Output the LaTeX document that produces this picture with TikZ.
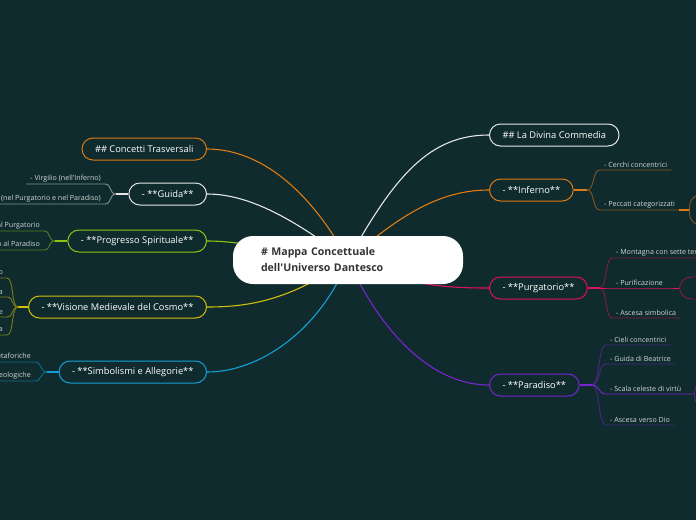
\documentclass[tikz,border=0pt]{standalone}
\usepackage{fontspec}
\setmainfont{Open Sans}
\usetikzlibrary{positioning}
\definecolor{bgcol}{HTML}{0F2B2D}
\definecolor{corange}{HTML}{E07A12}
\definecolor{cwhite}{HTML}{E6E6E6}
\definecolor{cgreen}{HTML}{8CC514}
\definecolor{cyellow}{HTML}{D2BE0C}
\definecolor{ccyan}{HTML}{14A0D6}
\definecolor{cpink}{HTML}{DE1060}
\definecolor{cpurple}{HTML}{7A24D0}
\definecolor{subtext}{HTML}{D4D8D8}
\definecolor{ctext}{HTML}{333333}
\pgfdeclarelayer{background}
\pgfdeclarelayer{edges}
\pgfsetlayers{background,edges,main}
\tikzset{
  topic/.style={draw=#1, line width=1pt, fill=bgcol, text=white, rounded corners=11pt,
    minimum height=22pt, inner xsep=13pt, font=\fontsize{9.3}{11}\selectfont},
  sub/.style={text=subtext, inner xsep=4pt, inner ysep=2pt, font=\fontsize{7.1}{8}\selectfont},
  leaf/.style={draw=#1!55!bgcol, line width=.9pt, rounded corners=12pt, anchor=west},
  link/.style={draw=#1, line width=1.1pt},
  twig/.style={draw=#1!55!bgcol, line width=.9pt}
}
\begin{document}
\begin{tikzpicture}[x=1pt,y=-1pt]
\useasboundingbox (0,0) rectangle (696,520);
\clip (0,0) rectangle (696,520);
\begin{pgfonlayer}{background}
\fill[bgcol] (0,0) rectangle (696,520);
\end{pgfonlayer}
%centre of the map
\node[fill=white, text=ctext, rounded corners=20pt, minimum height=48pt, text width=174pt,
  inner xsep=28pt, align=left, font=\bfseries\fontsize{10.6}{16}\selectfont] (map) at (348,260)
  {\# Mappa Concettuale\\dell\textquotesingle Universo Dantesco};
%main topics on the right
\node[topic=cwhite, anchor=west] (comm) at (489,135) {\#\# La Divina Commedia};
\node[topic=corange, anchor=west] (inf) at (489,190) {- **Inferno**};
\node[topic=cpink, anchor=west] (pur) at (489,288) {- **Purgatorio**};
\node[topic=cpurple, anchor=west] (par) at (489,385) {- **Paradiso**};
%main topics on the left
\node[topic=corange, anchor=east] (conc) at (207,149) {\#\# Concetti Trasversali};
\node[topic=cwhite, anchor=east] (guida) at (207,194) {- **Guida**};
\node[topic=cgreen, anchor=east] (prog) at (207,241) {- **Progresso Spirituale**};
\node[topic=cyellow, anchor=east] (cosmo) at (207,307) {- **Visione Medievale del Cosmo**};
\node[topic=ccyan, anchor=east] (simb) at (207,372) {- **Simbolismi e Allegorie**};
%inferno
\coordinate (infj) at (587,190);
\node[sub, anchor=south west] (inf1) at (600,170) {- Cerchi concentrici};
\node[sub, anchor=south west] (inf2) at (600,210) {- Peccati categorizzati};
\node[leaf=corange, minimum width=60pt, minimum height=31pt] (inf2a) at (689,210) {};
%purgatorio
\coordinate (purj) at (600,288);
\node[sub, anchor=south west] (pur1) at (612,258) {- Montagna con sette terrazze};
\node[sub, anchor=south west] (pur2) at (612,288) {- Purificazione};
\node[sub, anchor=south west] (pur3) at (612,318) {- Ascesa simbolica};
\node[leaf=cpink, minimum width=60pt, minimum height=22pt] (pur2a) at (679,288) {};
%paradiso
\coordinate (parj) at (592,385);
\node[sub, anchor=south west] (par1) at (606,345) {- Cieli concentrici};
\node[sub, anchor=south west] (par2) at (606,364) {- Guida di Beatrice};
\node[sub, anchor=south west] (par3) at (606,394) {- Scala celeste di virtù};
\node[sub, anchor=south west] (par4) at (606,425) {- Ascesa verso Dio};
\node[leaf=cpurple, minimum width=60pt, minimum height=28pt] (par3a) at (694,394) {};
%guida
\coordinate (guidaj) at (116,194);
\node[sub, anchor=south east] (guida1) at (105,184) {- Virgilio (nell\textquotesingle Inferno)};
\node[sub, anchor=south east] (guida2) at (105,204) {- Beatrice (nel Purgatorio e nel Paradiso)};
%progresso
\coordinate (progj) at (55,241);
\node[sub, anchor=south east] (prog1) at (44,231) {- Dall\textquotesingle Inferno al Purgatorio};
\node[sub, anchor=south east] (prog2) at (44,250) {- Dal Purgatorio al Paradiso};
%visione del cosmo
\coordinate (cosmoj) at (18,307);
\node[sub, anchor=south east] (cosmo1) at (7,278) {- Universo geocentrico};
\node[sub, anchor=south east] (cosmo2) at (7,297) {- Struttura tolemaica};
\node[sub, anchor=south east] (cosmo3) at (7,317) {- Sfere celesti e Primo Mobile};
\node[sub, anchor=south east] (cosmo4) at (7,335) {- Empireo come sede divina};
%simbolismi
\coordinate (simbj) at (47,372);
\node[sub, anchor=south east] (simb1) at (35,362) {- Figure metaforiche};
\node[sub, anchor=south east] (simb2) at (35,381) {- Allegorie teologiche};
\begin{pgfonlayer}{edges}
%from the centre to the topics
\draw[link=cwhite] (map.center) .. controls (395,175) and (430,135) .. (comm.west);
\draw[link=corange] (map.center) .. controls (400,215) and (440,190) .. (inf.west);
\draw[link=cpink] (map.center) .. controls (410,285) and (440,288) .. (pur.west);
\draw[link=cpurple] (map.center) .. controls (380,330) and (430,385) .. (par.west);
\draw[link=corange] (map.center) .. controls (310,190) and (260,149) .. (conc.east);
\draw[link=cwhite] (map.center) .. controls (295,220) and (250,194) .. (guida.east);
\draw[link=cgreen] (map.center) .. controls (280,250) and (240,241) .. (prog.east);
\draw[link=cyellow] (map.center) .. controls (290,300) and (250,307) .. (cosmo.east);
\draw[link=ccyan] (map.center) .. controls (320,330) and (260,372) .. (simb.east);
\end{pgfonlayer}
%branches on the right
\draw[link=corange] (inf.east) -- (infj);
\foreach \i in {1,2}
  \draw[twig=corange] (infj) .. controls +(8,0) and +(-8,0) .. (inf\i.south west) -- (inf\i.south east);
\draw[link=corange] (inf2.south east) -- (inf2a.west);
\draw[link=cpink] (pur.east) -- (purj);
\foreach \i in {1,3}
  \draw[twig=cpink] (purj) .. controls +(7,0) and +(-7,0) .. (pur\i.south west) -- (pur\i.south east);
\draw[link=cpink, line width=.9pt] (purj) -- (pur2.south west) -- (pur2.south east) -- (pur2a.west);
\draw[link=cpurple] (par.east) -- (parj);
\foreach \i in {1,2,4}
  \draw[twig=cpurple] (parj) .. controls +(8,0) and +(-8,0) .. (par\i.south west) -- (par\i.south east);
\draw[link=cpurple, line width=.9pt] (parj) .. controls +(8,0) and +(-8,0) .. (par3.south west) -- (par3.south east) -- (par3a.west);
%branches on the left
\draw[link=cwhite] (guida.west) -- (guidaj);
\foreach \i in {1,2}
  \draw[twig=cwhite] (guidaj) .. controls +(-7,0) and +(7,0) .. (guida\i.south east) -- (guida\i.south west);
\draw[link=cgreen] (prog.west) -- (progj);
\foreach \i in {1,2}
  \draw[twig=cgreen] (progj) .. controls +(-7,0) and +(7,0) .. (prog\i.south east) -- (prog\i.south west);
\draw[link=cyellow] (cosmo.west) -- (cosmoj);
\foreach \i in {1,2,3,4}
  \draw[twig=cyellow] (cosmoj) .. controls +(-7,0) and +(7,0) .. (cosmo\i.south east) -- (cosmo\i.south west);
\draw[link=ccyan] (simb.west) -- (simbj);
\foreach \i in {1,2}
  \draw[twig=ccyan] (simbj) .. controls +(-7,0) and +(7,0) .. (simb\i.south east) -- (simb\i.south west);
\end{tikzpicture}
\end{document}
